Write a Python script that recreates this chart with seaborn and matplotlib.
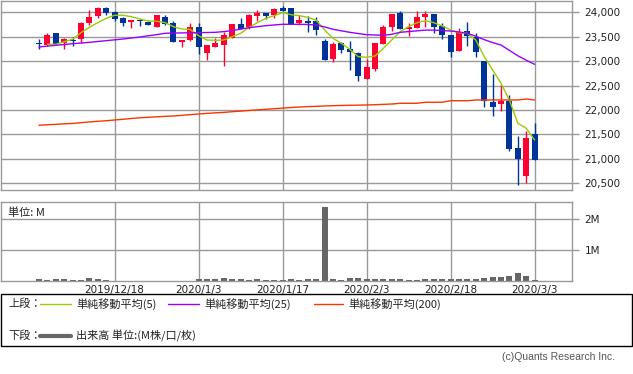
import matplotlib
matplotlib.use("Agg")
import matplotlib.pyplot as plt
from matplotlib.lines import Line2D
from matplotlib.patches import Rectangle
import numpy as np
import pandas as pd
import seaborn as sns

# daily candles, bar index 0..59 (last bar = 2020/3/3)
OPEN = [23352, 23331, 23576, 23365, 23421, 23447, 23787, 23930, 24088, 24000,
        23877, 23808, 23824, 23808, 23706, 23898, 23781, 23398, 23433, 23699,
        23173, 23296, 23337, 23474, 23760, 23706, 23930, 23980, 23945, 24088,
        24088, 23787, 23822, 23816, 23412, 23044, 23378, 23242, 23167, 22635,
        22835, 23357, 23699, 23986, 23664, 23685, 23910, 23965, 23720, 23535,
        23214, 23617, 23501, 23003, 22158, 22123, 22190, 21222, 20655, 21509]
HIGH = [23453, 23570, 23580, 23480, 23488, 23801, 24047, 24115, 24115, 24020,
        23897, 23842, 23856, 23830, 23945, 23945, 23816, 23440, 23781, 23781,
        23337, 23480, 23590, 23770, 23890, 23955, 24047, 23990, 24088, 24135,
        24095, 23945, 23924, 23910, 23453, 23392, 23400, 23412, 23180, 23038,
        23380, 23740, 23975, 24027, 23781, 24027, 24027, 23975, 23781, 23540,
        23679, 23801, 23570, 23003, 22737, 22512, 22307, 21468, 21576, 21728]
LOW = [23249, 23310, 23345, 23249, 23316, 23378, 23746, 23877, 23939, 23816,
       23726, 23685, 23726, 23730, 23706, 23740, 23385, 23296, 23413, 23140,
       23024, 23296, 22901, 23474, 23660, 23664, 23828, 23856, 23877, 24033,
       23760, 23754, 23597, 23542, 23024, 22989, 23173, 22819, 22594, 22630,
       22798, 23350, 23617, 23655, 23515, 23680, 23706, 23570, 23460, 23091,
       23210, 23310, 23091, 22068, 21883, 21986, 21167, 20459, 20500, 20977]
CLOSE = [23350, 23535, 23351, 23453, 23419, 23787, 23904, 24088, 23992, 23870,
         23787, 23835, 23822, 23746, 23945, 23760, 23392, 23440, 23699, 23296,
         23337, 23378, 23535, 23760, 23664, 23945, 23986, 23930, 24068, 24033,
         23760, 23842, 23787, 23631, 23024, 23357, 23228, 23187, 22696, 22880,
         23372, 23699, 23965, 23664, 23699, 23904, 23965, 23706, 23542, 23187,
         23590, 23515, 23194, 22190, 22068, 22190, 21208, 20997, 21433, 20977]
VOLUME_M = [0.05, 0.02, 0.05, 0.05, 0.02, 0.02, 0.08, 0.05, 0.01, 0.0,
            0.0, 0.0, 0.0, 0.0, 0.0, 0.0, 0.0, 0.0, 0.0, 0.05,
            0.05, 0.05, 0.08, 0.05, 0.05, 0.01, 0.05, 0.01, 0.01, 0.02,
            0.05, 0.01, 0.05, 0.05, 2.42, 0.05, 0.01, 0.08, 0.08, 0.05,
            0.05, 0.05, 0.05, 0.05, 0.01, 0.01, 0.05, 0.05, 0.05, 0.05,
            0.05, 0.05, 0.05, 0.08, 0.12, 0.12, 0.15, 0.26, 0.15, 0.01]
MA5 = [np.nan, 23345, 23345, 23398, 23447, 23583, 23693, 23787, 23877, 23939,
       23939, 23910, 23863, 23822, 23816, 23790, 23706, 23658, 23650, 23520,
       23433, 23426, 23433, 23501, 23570, 23690, 23787, 23877, 23930, 23992,
       23950, 23930, 23898, 23842, 23638, 23467, 23365, 23242, 23091, 23079,
       23105, 23263, 23433, 23603, 23706, 23787, 23828, 23787, 23720, 23638,
       23583, 23570, 23433, 23091, 22819, 22547, 22205, 21728, 21626, 21386]
MA25 = [23290, 23307, 23324, 23340, 23357, 23371, 23385, 23402, 23419, 23436,
        23453, 23473, 23494, 23518, 23542, 23570, 23575, 23578, 23580, 23583,
        23586, 23590, 23605, 23624, 23655, 23685, 23706, 23726, 23740, 23754,
        23754, 23754, 23750, 23740, 23700, 23652, 23620, 23590, 23565, 23542,
        23535, 23529, 23550, 23590, 23605, 23620, 23635, 23635, 23628, 23615,
        23597, 23570, 23510, 23440, 23380, 23330, 23220, 23110, 23020, 22935]
MA200 = [21687, 21697, 21706, 21716, 21725, 21740, 21755, 21768, 21780, 21795,
         21810, 21826, 21840, 21850, 21860, 21870, 21877, 21890, 21905, 21918,
         21930, 21942, 21950, 21965, 21977, 21990, 22002, 22014, 22026, 22038,
         22050, 22061, 22068, 22075, 22082, 22088, 22092, 22096, 22099, 22102,
         22108, 22115, 22122, 22137, 22137, 22137, 22158, 22158, 22158, 22190,
         22190, 22190, 22205, 22205, 22205, 22205, 22205, 22205, 22225, 22205]

DATE_TICKS = [9, 19, 29, 39, 49, 59]
DATE_LABELS = ["2019/12/18", "2020/1/3", "2020/1/17", "2020/2/3", "2020/2/18", "2020/3/3"]
PRICE_TICKS = [20500, 21000, 21500, 22000, 22500, 23000, 23500, 24000]
VOL_TICKS = [1, 2]

UP, DOWN = "#ff0033", "#003399"
GREEN, PURPLE, ORANGE = "#99cc00", "#9900ff", "#ff3300"
GRID = "#999999"
JP = ["Noto Sans CJK JP", "DejaVu Sans"]

sns.set_theme(style="white")
plt.rcParams["font.family"] = ["DejaVu Sans", "Noto Sans CJK JP"]

df = pd.DataFrame({"i": np.arange(len(OPEN)), "open": OPEN, "high": HIGH,
                   "low": LOW, "close": CLOSE, "vol": VOLUME_M,
                   "ma5": MA5, "ma25": MA25, "ma200": MA200})
cols = np.where(df["close"] > df["open"], UP, DOWN)

W, H = 633, 374
fig = plt.figure(figsize=(W / 100, H / 100), dpi=100)
ax = fig.add_axes([1 / W, 1 - 190 / H, 571 / W, 189 / H])
ax2 = fig.add_axes([1 / W, 1 - 280.5 / H, 571 / W, 78.8 / H])

# candles
ax.vlines(df["i"], df["low"], df["high"], color=cols, linewidth=1, zorder=3)
body = np.maximum((df["close"] - df["open"]).abs(), 22)
ax.bar(df["i"], body, bottom=np.minimum(df["open"], df["close"]),
       width=0.7, color=cols, linewidth=0, zorder=3)

sns.lineplot(data=df, x="i", y="ma5", color=GREEN, linewidth=1, ax=ax, zorder=4)
sns.lineplot(data=df, x="i", y="ma25", color=PURPLE, linewidth=1, ax=ax, zorder=4)
sns.lineplot(data=df, x="i", y="ma200", color=ORANGE, linewidth=1, ax=ax, zorder=4)

sns.barplot(data=df, x="i", y="vol", native_scale=True, width=0.7,
            color="#666666", saturation=1, errorbar=None, linewidth=0, ax=ax2)

for a in (ax, ax2):
    a.set_xlim(-4.52, 63.45)
    a.set_xlabel("")
    a.set_ylabel("")
    a.set_xticks(DATE_TICKS)
    a.grid(True, color=GRID, linewidth=1)
    a.set_axisbelow(True)
    for s in a.spines.values():
        s.set_color(GRID)
        s.set_linewidth(1)
    a.yaxis.tick_right()
    a.tick_params(axis="y", which="both", right=True, length=5, width=1,
                  color=GRID, pad=4, labelsize=7.5, labelcolor="#222222")
    a.tick_params(axis="x", length=0)

ax.set_ylim(20362, 24231)
ax.set_yticks(PRICE_TICKS)
ax.set_yticklabels([f"{v:,}" for v in PRICE_TICKS])
ax.set_xticklabels([])

ax2.set_ylim(0, 2.58)
ax2.set_yticks(VOL_TICKS)
ax2.set_yticklabels([f"{v}M" for v in VOL_TICKS])
ax2.set_xticklabels(DATE_LABELS, fontsize=7.5, color="#222222")
ax2.tick_params(axis="x", pad=3)
ax2.text(0.012, 0.93, "単位: M", transform=ax2.transAxes, fontsize=8,
         family=JP, va="top", ha="left", color="#222222")

# legend box
fig.add_artist(Rectangle((1 / W, 1 - 346 / H), 631 / W, 52 / H,
                         transform=fig.transFigure, fill=False,
                         edgecolor="black", linewidth=1))
y1, y2 = 1 - 304 / H, 1 - 336 / H
fig.text(8 / W, y1, "上段：", fontsize=8, family=JP, va="center", color="#222222")
fig.text(8 / W, y2, "下段：", fontsize=8, family=JP, va="center", color="#222222")
for x0, x1, c, lab in [(40, 71, GREEN, "単純移動平均(5)"),
                       (168, 199, PURPLE, "単純移動平均(25)"),
                       (314, 343, ORANGE, "単純移動平均(200)")]:
    fig.add_artist(Line2D([x0 / W, x1 / W], [y1, y1], color=c, linewidth=1,
                          transform=fig.transFigure))
    fig.text((x1 + 5) / W, y1, lab, fontsize=8, family=JP, va="center", color="#222222")
fig.add_artist(Line2D([40 / W, 71 / W], [y2, y2], color="#666666", linewidth=3,
                      transform=fig.transFigure))
fig.text(76 / W, y2, "出来高 単位:(M株/口/枚)", fontsize=8, family=JP,
         va="center", color="#222222")

fig.text(615 / W, 1 - 357 / H, "(c)Quants Research Inc.", fontsize=7.5,
         family=["Liberation Sans"], ha="right", va="center", color="#555555")

fig.savefig("out.png", dpi=100)
